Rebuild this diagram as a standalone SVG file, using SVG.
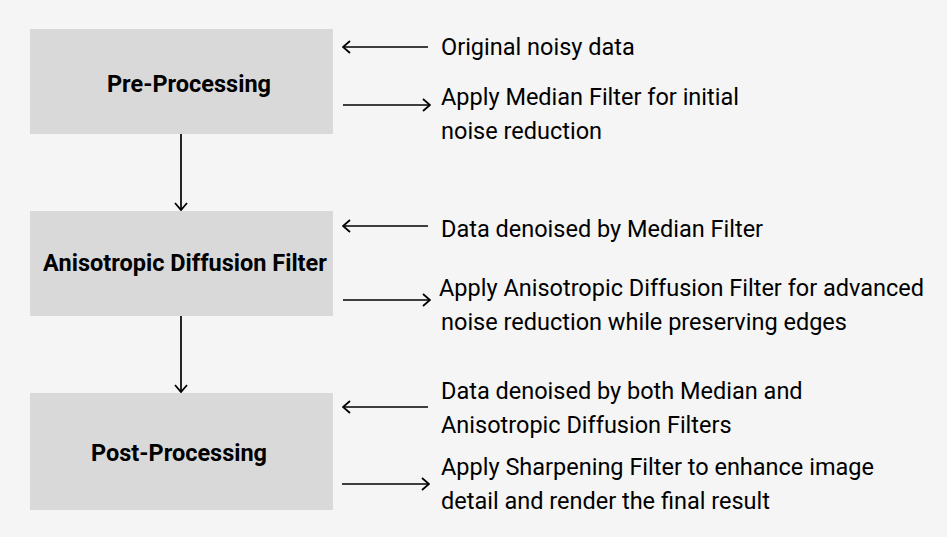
<svg xmlns="http://www.w3.org/2000/svg" width="947" height="537" viewBox="0 0 947 537">
<defs>
<marker id="ah" viewBox="0 0 10 14" refX="9" refY="7" markerWidth="10" markerHeight="14" markerUnits="userSpaceOnUse" orient="auto">
<path d="M2,1 L9,7 L2,13" fill="none" stroke="#000" stroke-width="1.8"/>
</marker>
<style>
.box{fill:#d9d9d9}
.lbl{font-family:Roboto,"Liberation Sans",sans-serif;font-weight:bold;font-size:23.5px;fill:#000;text-anchor:middle}
.txt{font-family:Roboto,"Liberation Sans",sans-serif;font-size:23.5px;fill:#000}
.ln{stroke:#000;stroke-width:1.7;fill:none;marker-end:url(#ah)}
</style>
</defs>
<rect width="947" height="537" fill="#f5f5f5"/>
<g id="node-pre">
<rect class="box" x="30" y="29" width="303" height="105"/>
<text class="lbl" x="189" y="92">Pre-Processing</text>
</g>
<g id="node-adf">
<rect class="box" x="30" y="211" width="303" height="105"/>
<text class="lbl" x="185" y="271">Anisotropic Diffusion Filter</text>
</g>
<g id="node-post">
<rect class="box" x="30" y="393" width="303" height="117"/>
<text class="lbl" x="179" y="461">Post-Processing</text>
</g>
<g id="notes">
<text class="txt" x="441" y="55">Original noisy data</text>
<text class="txt" x="441" y="105">Apply Median Filter for initial</text>
<text class="txt" x="441" y="139">noise reduction</text>
<text class="txt" x="441" y="237">Data denoised by Median Filter</text>
<text class="txt" x="439" y="296">Apply Anisotropic Diffusion Filter for advanced</text>
<text class="txt" x="441" y="330">noise reduction while preserving edges</text>
<text class="txt" x="441" y="399">Data denoised by both Median and</text>
<text class="txt" x="441" y="433">Anisotropic Diffusion Filters</text>
<text class="txt" x="441" y="475">Apply Sharpening Filter to enhance image</text>
<text class="txt" x="441" y="509">detail and render the final result</text>
</g>
<g id="connectors">
<line class="ln" x1="181" y1="134" x2="181" y2="210"/>
<line class="ln" x1="181" y1="316" x2="181" y2="392"/>
<line class="ln" x1="428" y1="47" x2="343" y2="47"/>
<line class="ln" x1="343" y1="105" x2="430" y2="105"/>
<line class="ln" x1="428" y1="226" x2="343" y2="226"/>
<line class="ln" x1="343" y1="300" x2="430" y2="300"/>
<line class="ln" x1="428" y1="407" x2="343" y2="407"/>
<line class="ln" x1="342" y1="484" x2="429" y2="484"/>
</g>
</svg>
